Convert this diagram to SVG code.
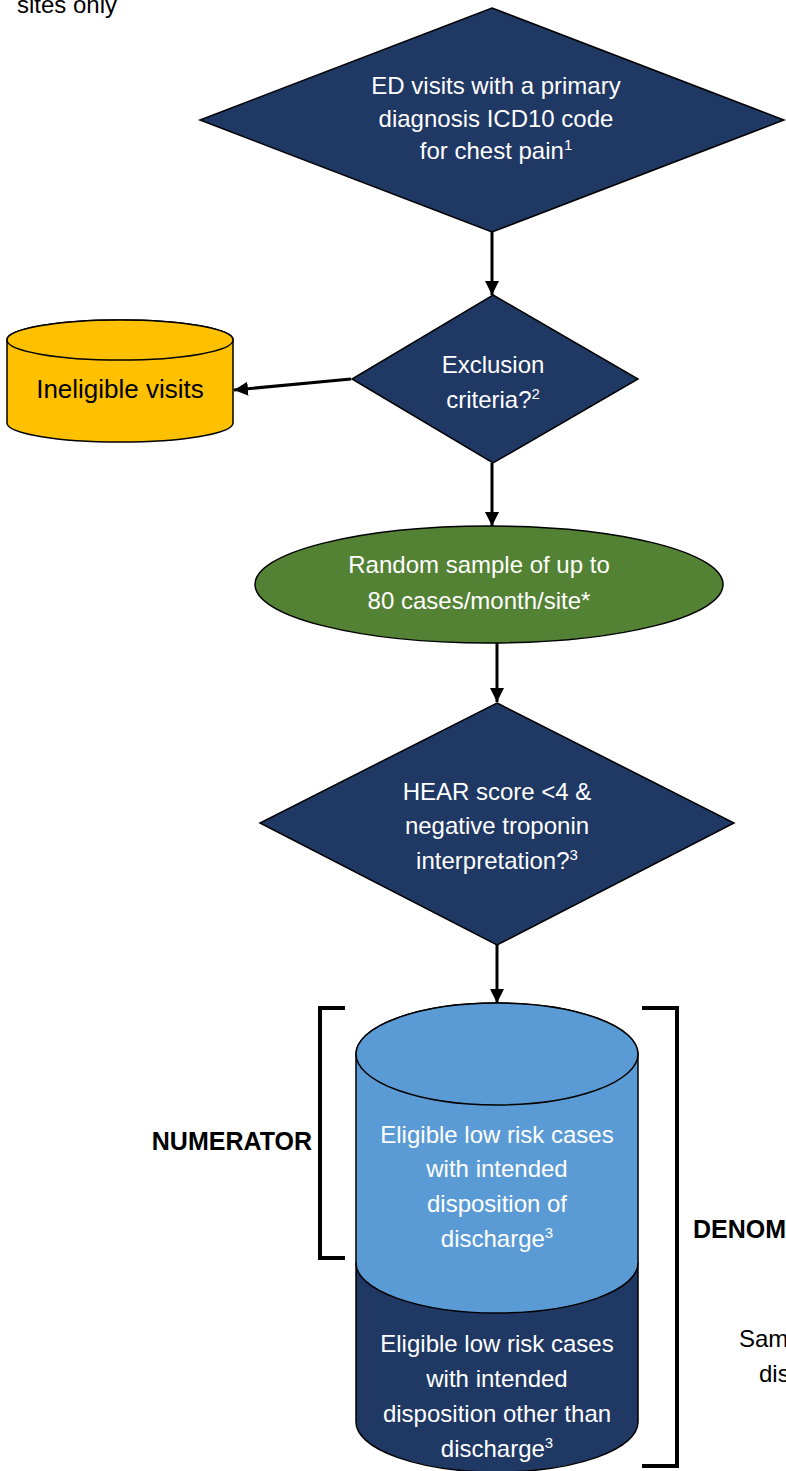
<svg xmlns="http://www.w3.org/2000/svg" width="786" height="1471" viewBox="0 0 786 1471">
<style>
  text { font-family: "Liberation Sans", Arial, sans-serif; }
  .wt { fill: #FFFFFF; font-size: 24px; text-anchor: middle; }
  .bt { fill: #000000; }
  .navy { fill: #1F3864; stroke: #000000; stroke-width: 1.5; }
  .green { fill: #548235; stroke: #000000; stroke-width: 1.5; }
  .yellow { fill: #FFC000; stroke: #000000; stroke-width: 1.5; }
  .lblue { fill: #5B9BD5; stroke: #000000; stroke-width: 1.5; }
  .conn { stroke: #000000; stroke-width: 3; fill: none; }
  .brk { stroke: #000000; stroke-width: 4; fill: none; }
  .sup { font-size: 15px; }
</style>
<defs>
  <marker id="ah" viewBox="0 0 12 12" refX="12" refY="6" markerWidth="14" markerHeight="14" markerUnits="userSpaceOnUse" orient="auto">
    <path d="M0,0 L12,6 L0,12 Z" fill="#000000"/>
  </marker>
</defs>

<text id="note-top" class="bt" x="17" y="13" font-size="24">sites only</text>

<g id="connectors">
  <line class="conn" x1="492" y1="232" x2="492" y2="295" marker-end="url(#ah)"/>
  <line class="conn" x1="351" y1="379" x2="234" y2="390" marker-end="url(#ah)"/>
  <line class="conn" x1="492" y1="463" x2="492" y2="526" marker-end="url(#ah)"/>
  <line class="conn" x1="497" y1="643" x2="497" y2="702" marker-end="url(#ah)"/>
  <line class="conn" x1="497" y1="945" x2="497" y2="1003" marker-end="url(#ah)"/>
</g>

<g id="node-ed-visits">
  <polygon class="navy" points="492,8 784,120 492,232 200,120"/>
  <text class="wt" x="496" y="94">ED visits with a primary</text>
  <text class="wt" x="496" y="127">diagnosis ICD10 code</text>
  <text class="wt" x="496" y="159">for chest pain<tspan class="sup" dy="-9">1</tspan></text>
</g>

<g id="node-exclusion">
  <polygon class="navy" points="493,295 638,379 493,463 352,379"/>
  <text class="wt" x="493" y="373">Exclusion</text>
  <text class="wt" x="493" y="408">criteria?<tspan class="sup" dy="-9">2</tspan></text>
</g>

<g id="node-ineligible">
  <path class="yellow" d="M7,340 L7,423 A113,19 0 0 0 233,423 L233,340 A113,20 0 0 0 7,340 Z"/>
  <ellipse class="yellow" cx="120" cy="340" rx="113" ry="20"/>
  <text class="bt" x="120" y="398" font-size="26" text-anchor="middle">Ineligible visits</text>
</g>

<g id="node-random-sample">
  <ellipse class="green" cx="489" cy="584.5" rx="234" ry="58.5"/>
  <text class="wt" x="479" y="573">Random sample of up to</text>
  <text class="wt" x="479" y="609">80 cases/month/site*</text>
</g>

<g id="node-hear">
  <polygon class="navy" points="497,703 734,823 497,945 260,823"/>
  <text class="wt" x="497" y="800">HEAR score &lt;4 &amp;</text>
  <text class="wt" x="497" y="834">negative troponin</text>
  <text class="wt" x="497" y="869">interpretation?<tspan class="sup" dy="-9">3</tspan></text>
</g>

<g id="node-other-than-discharge">
  <path class="navy" d="M356,1263 L356,1422 A141,50 0 0 0 638,1422 L638,1263 Z"/>
  <text class="wt" x="497" y="1352">Eligible low risk cases</text>
  <text class="wt" x="497" y="1387">with intended</text>
  <text class="wt" x="497" y="1422">disposition other than</text>
  <text class="wt" x="497" y="1457">discharge<tspan class="sup" dy="-9">3</tspan></text>
</g>

<g id="node-discharge">
  <path class="lblue" d="M356,1054 L356,1263 A141,50 0 0 0 638,1263 L638,1054 A141,51 0 0 0 356,1054 Z"/>
  <ellipse class="lblue" cx="497" cy="1054" rx="141" ry="51"/>
  <text class="wt" x="497" y="1143">Eligible low risk cases</text>
  <text class="wt" x="497" y="1177">with intended</text>
  <text class="wt" x="497" y="1212">disposition of</text>
  <text class="wt" x="497" y="1247">discharge<tspan class="sup" dy="-9">3</tspan></text>
</g>

<g id="numerator-bracket">
  <path class="brk" d="M345,1008 L320,1008 L320,1258 L345,1258"/>
  <text class="bt" x="312" y="1150" font-size="25" font-weight="bold" text-anchor="end">NUMERATOR</text>
</g>

<g id="denominator-bracket">
  <path class="brk" d="M642,1008 L677,1008 L677,1466 L642,1466"/>
  <text class="bt" x="693" y="1238" font-size="25" font-weight="bold">DENOM</text>
  <text class="bt" x="739" y="1347" font-size="24">Sam</text>
  <text class="bt" x="759" y="1382" font-size="24">dis</text>
</g>
</svg>
